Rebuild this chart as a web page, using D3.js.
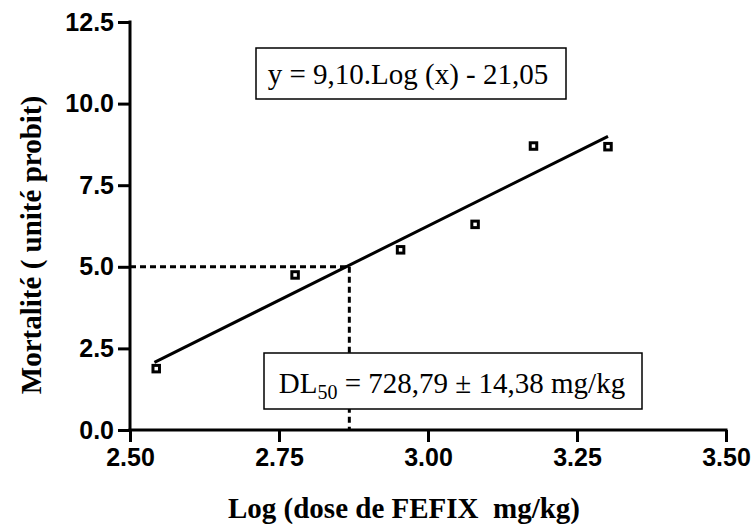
<!DOCTYPE html>
<html><head><meta charset="utf-8">
<script src="https://cdn.jsdelivr.net/npm/d3@7"></script>
<style>body{margin:0;background:#fff}svg{display:block}</style>
</head><body>
<script>
const logDose = [2.544, 2.777, 2.954, 3.079, 3.177, 3.302];
const probit = [1.88, 4.75, 5.52, 6.30, 8.70, 8.68];
const fitSlope = 9.10, fitIntercept = -21.05;
const fitRange = [2.541, 3.302];
const ld50Log = 2.868;
const xTicks = [2.50, 2.75, 3.00, 3.25, 3.50];
const yTicks = [0.0, 2.5, 5.0, 7.5, 10.0, 12.5];
const eqLabel = "y = 9,10.Log (x) - 21,05";
const xTitle = "Log (dose de FEFIX  mg/kg)";
const yTitle = "Mortalité ( unité probit)";

const W = 754, H = 524;
const svg = d3.select("body").append("svg").attr("width", W).attr("height", H);
const x = d3.scaleLinear().domain([2.5, 3.5]).range([130, 726]);
const y = d3.scaleLinear().domain([0, 12.5]).range([430, 22]);

// dashed reference lines
const dash = svg.append("g").attr("stroke", "#000").attr("stroke-width", 3)
  .attr("stroke-dasharray", "6,4").attr("fill", "none");
dash.append("line").attr("x1", x(2.5)).attr("x2", x(ld50Log)).attr("y1", y(5)).attr("y2", y(5));
dash.append("line").attr("x1", x(ld50Log)).attr("x2", x(ld50Log)).attr("y1", y(5)).attr("y2", y(0));

// fit line
svg.append("line")
  .attr("x1", x(fitRange[0])).attr("y1", y(fitSlope * fitRange[0] + fitIntercept))
  .attr("x2", x(fitRange[1])).attr("y2", y(fitSlope * fitRange[1] + fitIntercept))
  .attr("stroke", "#000").attr("stroke-width", 3);

// points
svg.append("g").selectAll("rect").data(logDose).join("rect")
  .attr("x", (d) => x(d) - 3.25).attr("y", (d, i) => y(probit[i]) - 3.25)
  .attr("width", 6.5).attr("height", 6.5)
  .attr("fill", "#fff").attr("stroke", "#000").attr("stroke-width", 3);

// axes
const xAxis = svg.append("g").attr("transform", `translate(0,${y(0)})`)
  .call(d3.axisBottom(x).tickValues(xTicks).tickFormat(d3.format(".2f")).tickSize(12).tickPadding(6));
const yAxis = svg.append("g").attr("transform", `translate(${x(2.5)},0)`)
  .call(d3.axisLeft(y).tickValues(yTicks).tickFormat(d3.format(".1f")).tickSize(12).tickPadding(4));
[xAxis, yAxis].forEach(g => {
  g.selectAll(".tick line").attr("stroke-width", 3);
  g.selectAll("text").attr("font-family", "Liberation Sans, Arial, sans-serif")
    .attr("font-weight", "bold").attr("font-size", 25).attr("fill", "#000");
});
xAxis.select(".domain").remove();
yAxis.select(".domain").remove();
svg.append("line").attr("x1", x(2.5) - 1.5).attr("x2", x(3.5) + 1.5).attr("y1", y(0)).attr("y2", y(0))
  .attr("stroke", "#000").attr("stroke-width", 3);
svg.append("line").attr("x1", x(2.5)).attr("x2", x(2.5)).attr("y1", y(12.5) - 1.5).attr("y2", y(0))
  .attr("stroke", "#000").attr("stroke-width", 3);

// equation box
const serif = "Liberation Serif, Times New Roman, serif";
svg.append("rect").attr("x", 256).attr("y", 48).attr("width", 310).attr("height", 51)
  .attr("fill", "#fff").attr("stroke", "#000").attr("stroke-width", 1.5);
svg.append("text").attr("x", 408).attr("y", 84).attr("text-anchor", "middle")
  .attr("font-family", serif).attr("font-size", 29).text(eqLabel);

// LD50 box
svg.append("rect").attr("x", 264).attr("y", 353).attr("width", 378).attr("height", 56)
  .attr("fill", "#fff").attr("stroke", "#000").attr("stroke-width", 1.5);
const t = svg.append("text").attr("x", 452).attr("y", 393).attr("text-anchor", "middle")
  .attr("font-family", serif).attr("font-size", 29);
t.append("tspan").text("DL");
t.append("tspan").attr("font-size", 20).attr("dy", 6).text("50");
t.append("tspan").attr("dy", -6).text(" = 728,79 ± 14,38 mg/kg");

// axis titles
svg.append("text").attr("x", 404).attr("y", 518).attr("text-anchor", "middle")
  .attr("font-family", serif).attr("font-weight", "bold").attr("font-size", 29)
  .style("white-space", "pre").text(xTitle);
svg.append("text").attr("transform", "translate(41,245) rotate(-90)").attr("text-anchor", "middle")
  .attr("font-family", serif).attr("font-weight", "bold").attr("font-size", 29).text(yTitle);
</script>
</body></html>
